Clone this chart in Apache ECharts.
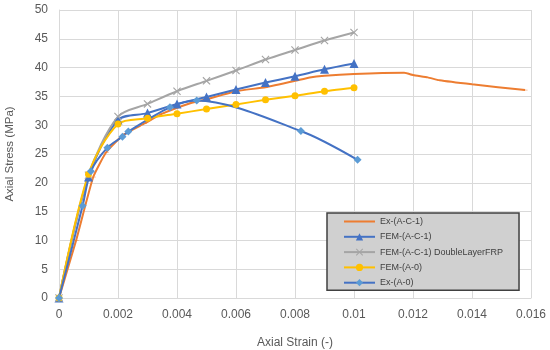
<!DOCTYPE html>
<html>
<head>
<meta charset="utf-8">
<script src="https://cdn.jsdelivr.net/npm/echarts@6/dist/echarts.min.js"></script>
<style>html,body{margin:0;padding:0;background:#fff}#c{width:550px;height:350px}</style>
</head>
<body>
<div id="c"></div>
<script>
var seriesNames = ['Ex-(A-C-1)', 'FEM-(A-C-1)', 'FEM-(A-C-1) DoubleLayerFRP', 'FEM-(A-0)', 'Ex-(A-0)'];
var exAC1 = [[0,0],[0.00058,10],[0.00116,21],[0.0016,25.3],[0.0022,28.4],[0.0029,30.3],[0.0035,32],[0.0045,33.9],[0.005,34.5],[0.006,35.9],[0.007,36.6],[0.008,37.7],[0.0085,38.3],[0.009,38.6],[0.01,38.9],[0.0117,39.1],[0.012,38.7],[0.0125,38.3],[0.0129,37.8],[0.014,37.1],[0.0158,36.1]];
var femAC1 = [[0,0],[0.001,21],[0.002,30.9],[0.003,32.1],[0.004,33.7],[0.005,34.9],[0.006,36.2],[0.007,37.4],[0.008,38.5],[0.009,39.7],[0.01,40.7]];
var femAC1Double = [[0,0],[0.001,21.3],[0.002,31.5],[0.003,33.7],[0.004,35.9],[0.005,37.7],[0.006,39.5],[0.007,41.4],[0.008,43.05],[0.009,44.7],[0.01,46.1]];
var femA0 = [[0,0],[0.001,21.5],[0.002,30.2],[0.003,31.2],[0.004,32.0],[0.005,32.8],[0.006,33.6],[0.007,34.4],[0.008,35.1],[0.009,35.9],[0.01,36.5]];
var exA0 = [[0,0],[0.0008,16],[0.00108,22],[0.00164,26.1],[0.00215,28],[0.00235,28.9],[0.00376,33.1],[0.00467,34.3],[0.0082,29],[0.01012,24]];
var xTicks = {min: 0, max: 0.016, interval: 0.002};
var yTicks = {min: 0, max: 50, interval: 5};

var crossPath = 'path://M0,1L1,0L5,4L9,0L10,1L6,5L10,9L9,10L5,6L1,10L0,9L4,5Z';
var dashPath = 'path://M0,0L10,0L10,3L0,3Z';
var lineIcon = 'path://M0,0L31,0L31,0.01L0,0.01Z M0,3.5L31,3.5L31,5.5L0,5.5Z M0,8.99L31,8.99L31,9L0,9Z';
var chart = echarts.init(document.getElementById('c'));
var font = 'Liberation Sans, Arial, sans-serif';
function mk(name, data, lineColor, markColor, symbol, size, smooth) {
  return {
    name: name, type: 'line', data: data, smooth: smooth,
    symbol: symbol, symbolSize: size, symbolKeepAspect: true,
    lineStyle: {color: lineColor, width: 2},
    itemStyle: {color: markColor},
    emphasis: {disabled: true},
    animation: false
  };
}
var legendData = seriesNames.map(function (n, i) {
  return i === 0 ? {name: n, icon: lineIcon} : {name: n};
});
chart.setOption({
  animation: false,
  grid: {left: 59, right: 19, top: 10, bottom: 52, outerBoundsMode: 'none', containLabel: false},
  xAxis: {
    type: 'value', min: xTicks.min, max: xTicks.max, interval: xTicks.interval,
    name: 'Axial Strain (-)', nameLocation: 'middle', nameGap: 39,
    nameTextStyle: {color: '#595959', fontSize: 12, fontFamily: font},
    axisLine: {show: true, lineStyle: {color: '#D9D9D9'}},
    axisTick: {show: false},
    axisLabel: {color: '#595959', fontSize: 12, fontFamily: font, margin: 11,
      formatter: function (v) { return String(+v.toFixed(3)); }},
    splitLine: {show: true, lineStyle: {color: '#D9D9D9', width: 1}}
  },
  yAxis: {
    type: 'value', min: yTicks.min, max: yTicks.max, interval: yTicks.interval,
    name: 'Axial Stress (MPa)', nameLocation: 'middle', nameGap: 43,
    nameTextStyle: {color: '#595959', fontSize: 11.5, fontFamily: font},
    axisLine: {show: true, lineStyle: {color: '#D9D9D9'}},
    axisTick: {show: false},
    axisLabel: {color: '#595959', fontSize: 12, fontFamily: font, margin: 11},
    splitLine: {show: true, lineStyle: {color: '#D9D9D9', width: 1}}
  },
  legend: {
    orient: 'vertical', left: 327, top: 213,
    backgroundColor: '#D0D0D0', borderColor: '#404040', borderWidth: 1.5, borderRadius: 0,
    padding: [4, 16, 3, 16],
    itemWidth: 31, itemHeight: 9, itemGap: 6.3,
    textStyle: {color: '#404040', fontSize: 9, fontFamily: font},
    data: legendData
  },
  series: [
    mk(seriesNames[0], exAC1, '#ED7D31', '#ED7D31', dashPath, [5, 1.5], 0.15),
    mk(seriesNames[1], femAC1, '#4472C4', '#4472C4', 'triangle', 9, 0.3),
    mk(seriesNames[2], femAC1Double, '#A5A5A5', '#A5A5A5', crossPath, 8, 0.3),
    mk(seriesNames[3], femA0, '#FFC000', '#FFC000', 'circle', 7, 0.3),
    mk(seriesNames[4], exA0, '#4472C4', '#5B9BD5', 'diamond', 8, 0.3)
  ]
});
</script>
</body>
</html>
